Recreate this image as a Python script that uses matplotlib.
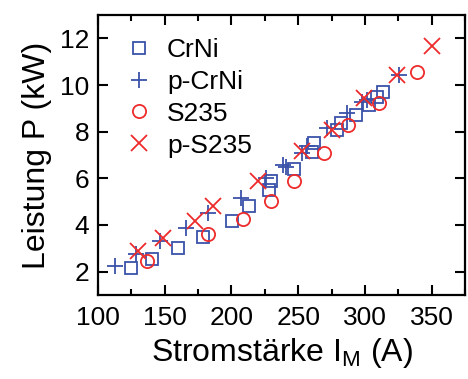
import numpy as np
import matplotlib
matplotlib.use("Agg")
import matplotlib.pyplot as plt
from matplotlib.ticker import MultipleLocator

plt.rcParams['font.family'] = ['Liberation Sans', 'DejaVu Sans']

# CrNi (offene Quadrate)
crni_I = [124.6, 140.8, 160.2, 178.9, 200.4, 213.4, 228.4, 229.6, 247.0,
          260.7, 262.0, 279.3, 281.9, 293.1, 303.0, 309.2, 313.4]
crni_P = [2.15, 2.53, 2.99, 3.50, 4.15, 4.81, 5.52, 5.88, 6.38,
          7.12, 7.52, 8.09, 8.37, 8.73, 9.15, 9.51, 9.70]

# p-CrNi (+)
pcrni_I = [112.7, 128.9, 146.3, 165.7, 182.8, 207.2, 225.9, 238.3, 240.8,
           253.2, 256.9, 271.9, 286.8, 297.8, 301.7, 325.4]
pcrni_P = [2.24, 2.74, 3.31, 3.85, 4.50, 5.17, 6.02, 6.59, 6.50,
           7.09, 7.37, 8.16, 8.80, 9.28, 9.37, 10.44]

# S235 (Kreise)
s235_I = [136.9, 182.3, 208.6, 229.6, 247.0, 269.0, 287.5, 310.4, 338.6]
s235_P = [2.44, 3.60, 4.24, 5.02, 5.88, 7.09, 8.30, 9.25, 10.58]

# p-S235 (x)
ps235_I = [129.9, 148.7, 172.4, 186.0, 219.6, 253.2, 275.6, 299.3, 324.1, 349.8]
ps235_P = [2.88, 3.43, 4.17, 4.81, 5.88, 7.16, 8.09, 9.44, 10.44, 11.68]

blue = '#3a52a8'
red = '#ee2b2b'

fig = plt.figure(figsize=(4.68, 3.79), dpi=100)
ax = fig.add_axes([0.209, 0.222, 0.785, 0.738])

ax.plot(crni_I, crni_P, 's', ms=8.5, mfc='none', mec=blue, mew=1.3, label='CrNi')
ax.plot(pcrni_I, pcrni_P, '+', ms=12, mec=blue, mew=1.3, label='p-CrNi')
ax.plot(s235_I, s235_P, 'o', ms=9.5, mfc='none', mec=red, mew=1.3, label='S235')
ax.plot(ps235_I, ps235_P, 'x', ms=11, mec=red, mew=1.3, label='p-S235')

ax.set_xlim(100, 375)
ax.set_ylim(1, 13)
ax.xaxis.set_major_locator(MultipleLocator(50))
ax.xaxis.set_minor_locator(MultipleLocator(25))
ax.yaxis.set_major_locator(MultipleLocator(2))

ax.tick_params(which='both', direction='in', top=True, right=True, width=1.5)
ax.tick_params(which='major', length=7.5, labelsize=19)
ax.tick_params(axis='x', which='major', pad=8)
ax.tick_params(axis='y', which='major', pad=6)
ax.tick_params(which='minor', length=4)
for s in ax.spines.values():
    s.set_linewidth(1.6)

ax.set_xlabel('Stromstärke I$_\\mathregular{M}$ (A)', fontsize=23, labelpad=4)
ax.set_ylabel('Leistung P (kW)', fontsize=23, labelpad=6)

ax.legend(loc='upper left', bbox_to_anchor=(0.012, 0.985), frameon=False, fontsize=19,
          handletextpad=0.35, labelspacing=0.3, borderaxespad=0.3, handlelength=1.4)

fig.savefig('out.png', dpi=100)
